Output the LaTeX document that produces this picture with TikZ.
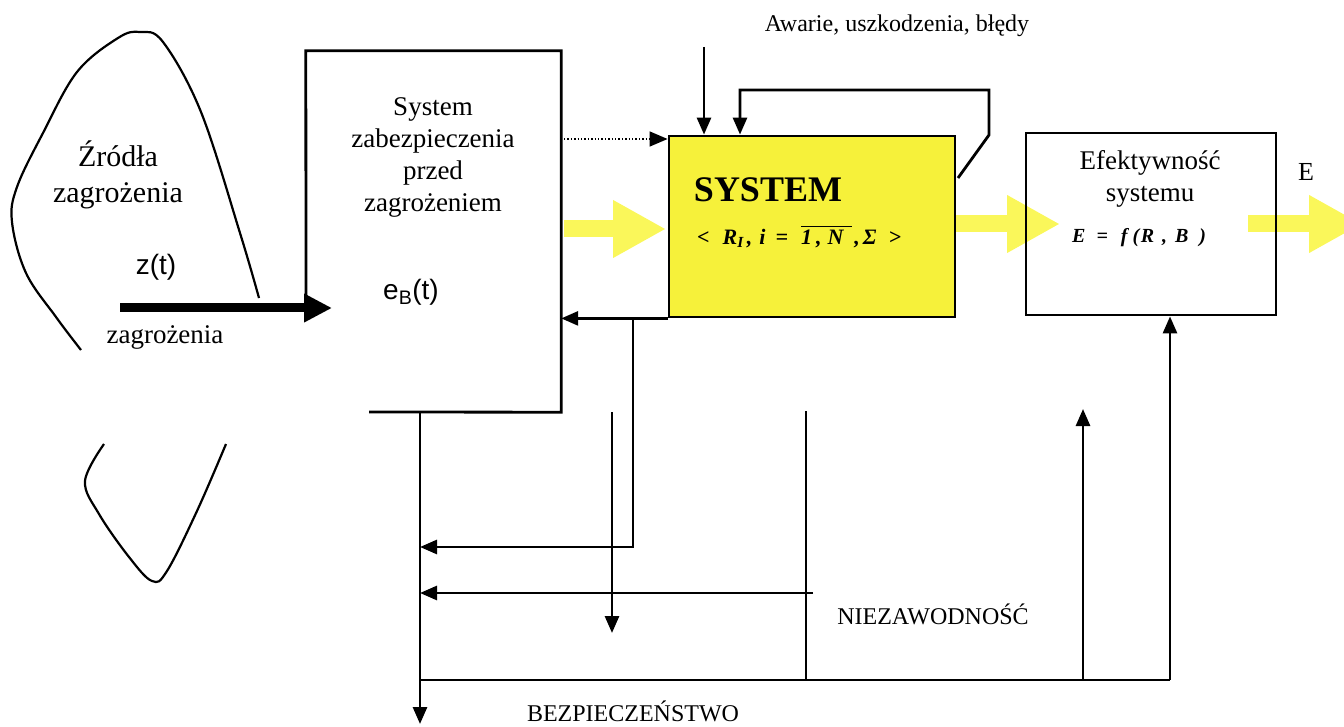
\documentclass[tikz,border=0pt]{standalone}
\usepackage{fontspec}
\setmainfont{Liberation Serif}
\newfontfamily\arialf{Liberation Sans}
\usetikzlibrary{arrows.meta,backgrounds}
\definecolor{sysyellow}{RGB}{246,241,58}
\definecolor{flowyellow}{RGB}{250,247,90}
\newcommand{\ovl}[1]{\vbox{\hrule height 1.4pt\kern2.5pt\hbox{#1}}}
\tikzset{
  line/.style={line width=2.8pt},
  arr/.style={line,-{Triangle[length=17pt,width=14pt]}},
  flow/.style={draw=flowyellow,line width=17pt,-{Triangle[length=53pt,width=54pt]}},
  threat/.style={line width=9pt,-{Triangle[length=28pt,width=27pt]}},
  boxtext/.style={align=center,font=\fontsize{27}{32}\selectfont},
  formula/.style={anchor=west,inner sep=0pt,font=\bfseries\itshape\fontsize{22}{26}\selectfont},
  lbl/.style={font=\fontsize{24}{28}\selectfont}
}
\begin{document}
\begin{tikzpicture}[x=1pt,y=-1pt]
\useasboundingbox (0,0) rectangle (1344,727);
% zrodla zagrozenia
\draw[line width=2.2pt] plot[smooth,tension=0.6] coordinates {(81,350) (56,317) (26,273) (12,222) (17,187) (43,133) (77,72) (118,38) (140,32) (163,42) (201,112) (240,233) (259,298)};
\draw[line width=2.2pt] plot[smooth,tension=0.6] coordinates {(104,444) (85,481) (99,514) (129,557) (152,581) (167,571) (197,511) (226,444)};
\node[align=center,font=\fontsize{30}{36}\selectfont] (zrl) at (118,175) {Źródła\\zagrożenia};
\node[font=\arialf\fontsize{28}{32}\selectfont] (zt) at (156,267) {z(t)};
\node[font=\fontsize{27}{32}\selectfont] (zagl) at (165,337) {zagrożenia};
% bloki
\node[minimum width=255pt,minimum height=361pt,inner sep=0] (sz) at (433.5,231.5) {};
\draw[line] (306,300) -- (sz.north west) -- (sz.north east) -- (sz.south east) -- (369,412);
\node[boxtext] (szt) at (433,157) {System\\zabezpieczenia\\przed\\zagrożeniem};
\node[font=\arialf\fontsize{28}{32}\selectfont] (eb) at (411,292) {e\textsubscript{B}(t)};
\node[line,draw,fill=sysyellow,minimum width=286pt,minimum height=181pt,inner sep=0] (sys) at (812,226.5) {};
\node[font=\bfseries\fontsize{36}{40}\selectfont] (sysname) at (768,190) {SYSTEM};
\node[formula] (sysf) at (697,237) {<\hspace{13pt}R\textsubscript{I}\hspace{3pt},\hspace{7pt}i\hspace{10pt}=\hspace{13pt}\ovl{1\hspace{4pt},\hspace{6pt}N\hspace{9pt}}\hspace{2pt},\hspace{3pt}Σ\hspace{12pt}>};
\node[line,draw,minimum width=250pt,minimum height=182pt,inner sep=0] (eff) at (1151,224) {};
\node[boxtext] (efft) at (1150,179) {Efektywność\\systemu};
\node[formula,font=\bfseries\itshape\fontsize{20}{24}\selectfont] (efff) at (1072,238) {E\hspace{11pt}=\hspace{13pt}f\hspace{5pt}(\hspace{1.5pt}R\hspace{8pt},\hspace{8pt}B\hspace{11pt})};
\node[font=\fontsize{26}{30}\selectfont] (elab) at (1306,172) {E};
\node[lbl] (awlab) at (897,26) {Awarie, uszkodzenia, błędy};
\node[lbl] (nz) at (933,614) {NIEZAWODNOŚĆ};
\node[lbl] (bz) at (633,711) {BEZPIECZEŃSTWO};
% punkty
\coordinate (zs) at (120,308);
\coordinate (ze) at (332,308);
\coordinate (d1) at (564,139);
\coordinate (aw) at (704,47);
\coordinate (l1) at (958,178);
\coordinate (l2) at (989,135);
\coordinate (l3) at (989,90);
\coordinate (l4) at (740,90);
\coordinate (p1) at (633,318);
\coordinate (v0) at (420,412);
\coordinate (v1) at (420,724);
\coordinate (q1) at (420,547);
\coordinate (q2) at (420,593);
\coordinate (q3) at (420,680);
\coordinate (r1) at (612,412);
\coordinate (r2) at (612,633);
\coordinate (n1) at (813,593);
\coordinate (m1) at (806,411);
\coordinate (m2) at (806,680);
\coordinate (k1) at (1083,680);
\coordinate (k2) at (1083,409);
\coordinate (e1) at (1170,680);
\coordinate (f1) at (564,229);
\coordinate (f2) at (666,229);
\coordinate (f3) at (955,224);
\coordinate (f4) at (1060,224);
\coordinate (f5) at (1248,224);
\coordinate (f6) at (1362,224);
% strzalki
\begin{scope}[on background layer]
\draw[flow] (f1) -- (f2);
\draw[flow] (f3) -- (f4);
\draw[flow] (f5) -- (f6);
\end{scope}
\draw[threat] (zs) -- (ze);
\draw[line width=1.4pt,dotted,-{Triangle[length=18pt,width=15pt]}] (d1) -- (d1 -| sys.west);
\draw[arr] (aw) -- (aw |- sys.north);
\draw[arr] (l1) -- (l2) -- (l3) -- (l4) -- (l4 |- sys.north);
\draw[arr] (sys.south west) -- (sys.south west -| sz.east);
\draw[arr] (p1) |- (q1);
\draw[arr] (v0) -- (v1);
\draw[arr] (r1) -- (r2);
\draw[arr] (n1) -- (q2);
\draw[line] (m1) -- (m2);
\draw[line] (q3) -- (e1);
\draw[arr] (k1) -- (k2);
\draw[arr] (e1) -- (e1 |- eff.south);
\end{tikzpicture}
\end{document}
